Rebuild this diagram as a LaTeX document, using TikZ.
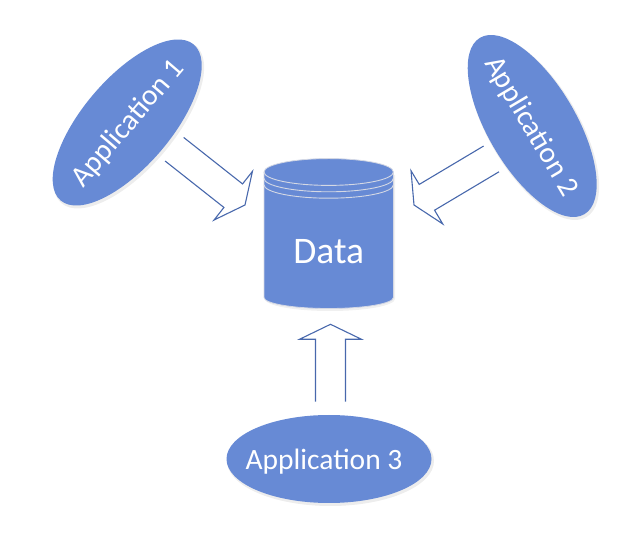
\documentclass[tikz,border=0pt]{standalone}
\usepackage{fontspec}
\setmainfont{Carlito}
\usetikzlibrary{calc,shapes.geometric}
\definecolor{shapeblue}{RGB}{103,138,213}
\definecolor{arrowblue}{RGB}{72,104,172}
\definecolor{rimgrey}{RGB}{212,216,228}
\tikzset{
  appshape/.style={ellipse, fill=shapeblue, draw=none, minimum width=205pt, minimum height=88pt, inner sep=0pt},
  appshadow/.style={ellipse, fill=black, fill opacity=0.07, draw=none, minimum width=207pt, minimum height=90pt, inner sep=0pt},
  apptext/.style={text=white, font=\fontsize{29.5}{35}\selectfont, inner sep=0pt, anchor=base},
  datatext/.style={text=white, font=\fontsize{37.5}{44}\selectfont, inner sep=0pt, anchor=base},
  arrowline/.style={draw=arrowblue, line width=1.1pt, line join=miter},
  pics/blockarrow/.style={code={
    \draw[arrowline] (-#1,15) -- (-15,15) -- (-15,31) -- (0,0) -- (-15,-31) -- (-15,-15) -- (-#1,-15);
  }}
}
\begin{document}
\begin{tikzpicture}[x=1pt,y=1pt]
\useasboundingbox (0,0) rectangle (634,535);
% shadows
\node[appshadow, rotate=49.5] (s1) at (128.7,410.5) {};
\node[appshadow, rotate=-59.4] (s2) at (533.7,407) {};
\node[appshadow] (s3) at (330.5,74) {};
% application ellipses
\node[appshape, rotate=49.5] (app1) at (127.2,412.5) {};
\node[appshape, rotate=-59.4] (app2) at (532.2,409) {};
\node[appshape] (app3) at (329,76) {};
\node[apptext, rotate=49.5] (t1) at ($(app1.center)+(49.5-90:9.3)$) {Application 1};
\node[apptext, rotate=-59.4] (t2) at ($(app2.center)+(-59.4-90:9.3)$) {Application 2};
\node[apptext] (t3) at (324,65) {Application 3};
% cylinder
\coordinate (ctop) at (328.7,363);
\coordinate (cbot) at (328.7,237.5);
\fill[black, opacity=0.06] (265,236) -- (265,360) -- (395,360) -- (395,236) arc[start angle=0, end angle=-180, x radius=65, y radius=12] -- cycle;
\fill[shapeblue, draw=rimgrey, line width=0.8pt]
  ($(cbot)+(-64.7,0)$) -- ($(ctop)+(-64.7,0)$)
  arc[start angle=180, end angle=0, x radius=64.7, y radius=13.4]
  -- ($(cbot)+(64.7,0)$)
  arc[start angle=0, end angle=-180, x radius=64.7, y radius=11] -- cycle;
\draw[rimgrey, line width=0.9pt] ($(ctop)+(-64.7,0)$) arc[start angle=180, end angle=360, x radius=64.7, y radius=13.4];
\draw[rimgrey, line width=0.9pt] ($(ctop)+(-64.7,-6.4)$) arc[start angle=180, end angle=360, x radius=64.7, y radius=13.4];
\draw[rimgrey, line width=0.9pt] ($(ctop)+(-64.7,-12.8)$) arc[start angle=180, end angle=360, x radius=64.7, y radius=13.4];
\node[datatext] (data) at (328.7,271.7) {Data};
% block arrows
\pic[rotate=-38.3] (a1) at (245,330) {blockarrow=90};
\pic[rotate=210.8] (a2) at (414,330) {blockarrow=90};
\pic[rotate=90] (a3) at (330.5,210.7) {blockarrow=77.4};
\end{tikzpicture}
\end{document}
